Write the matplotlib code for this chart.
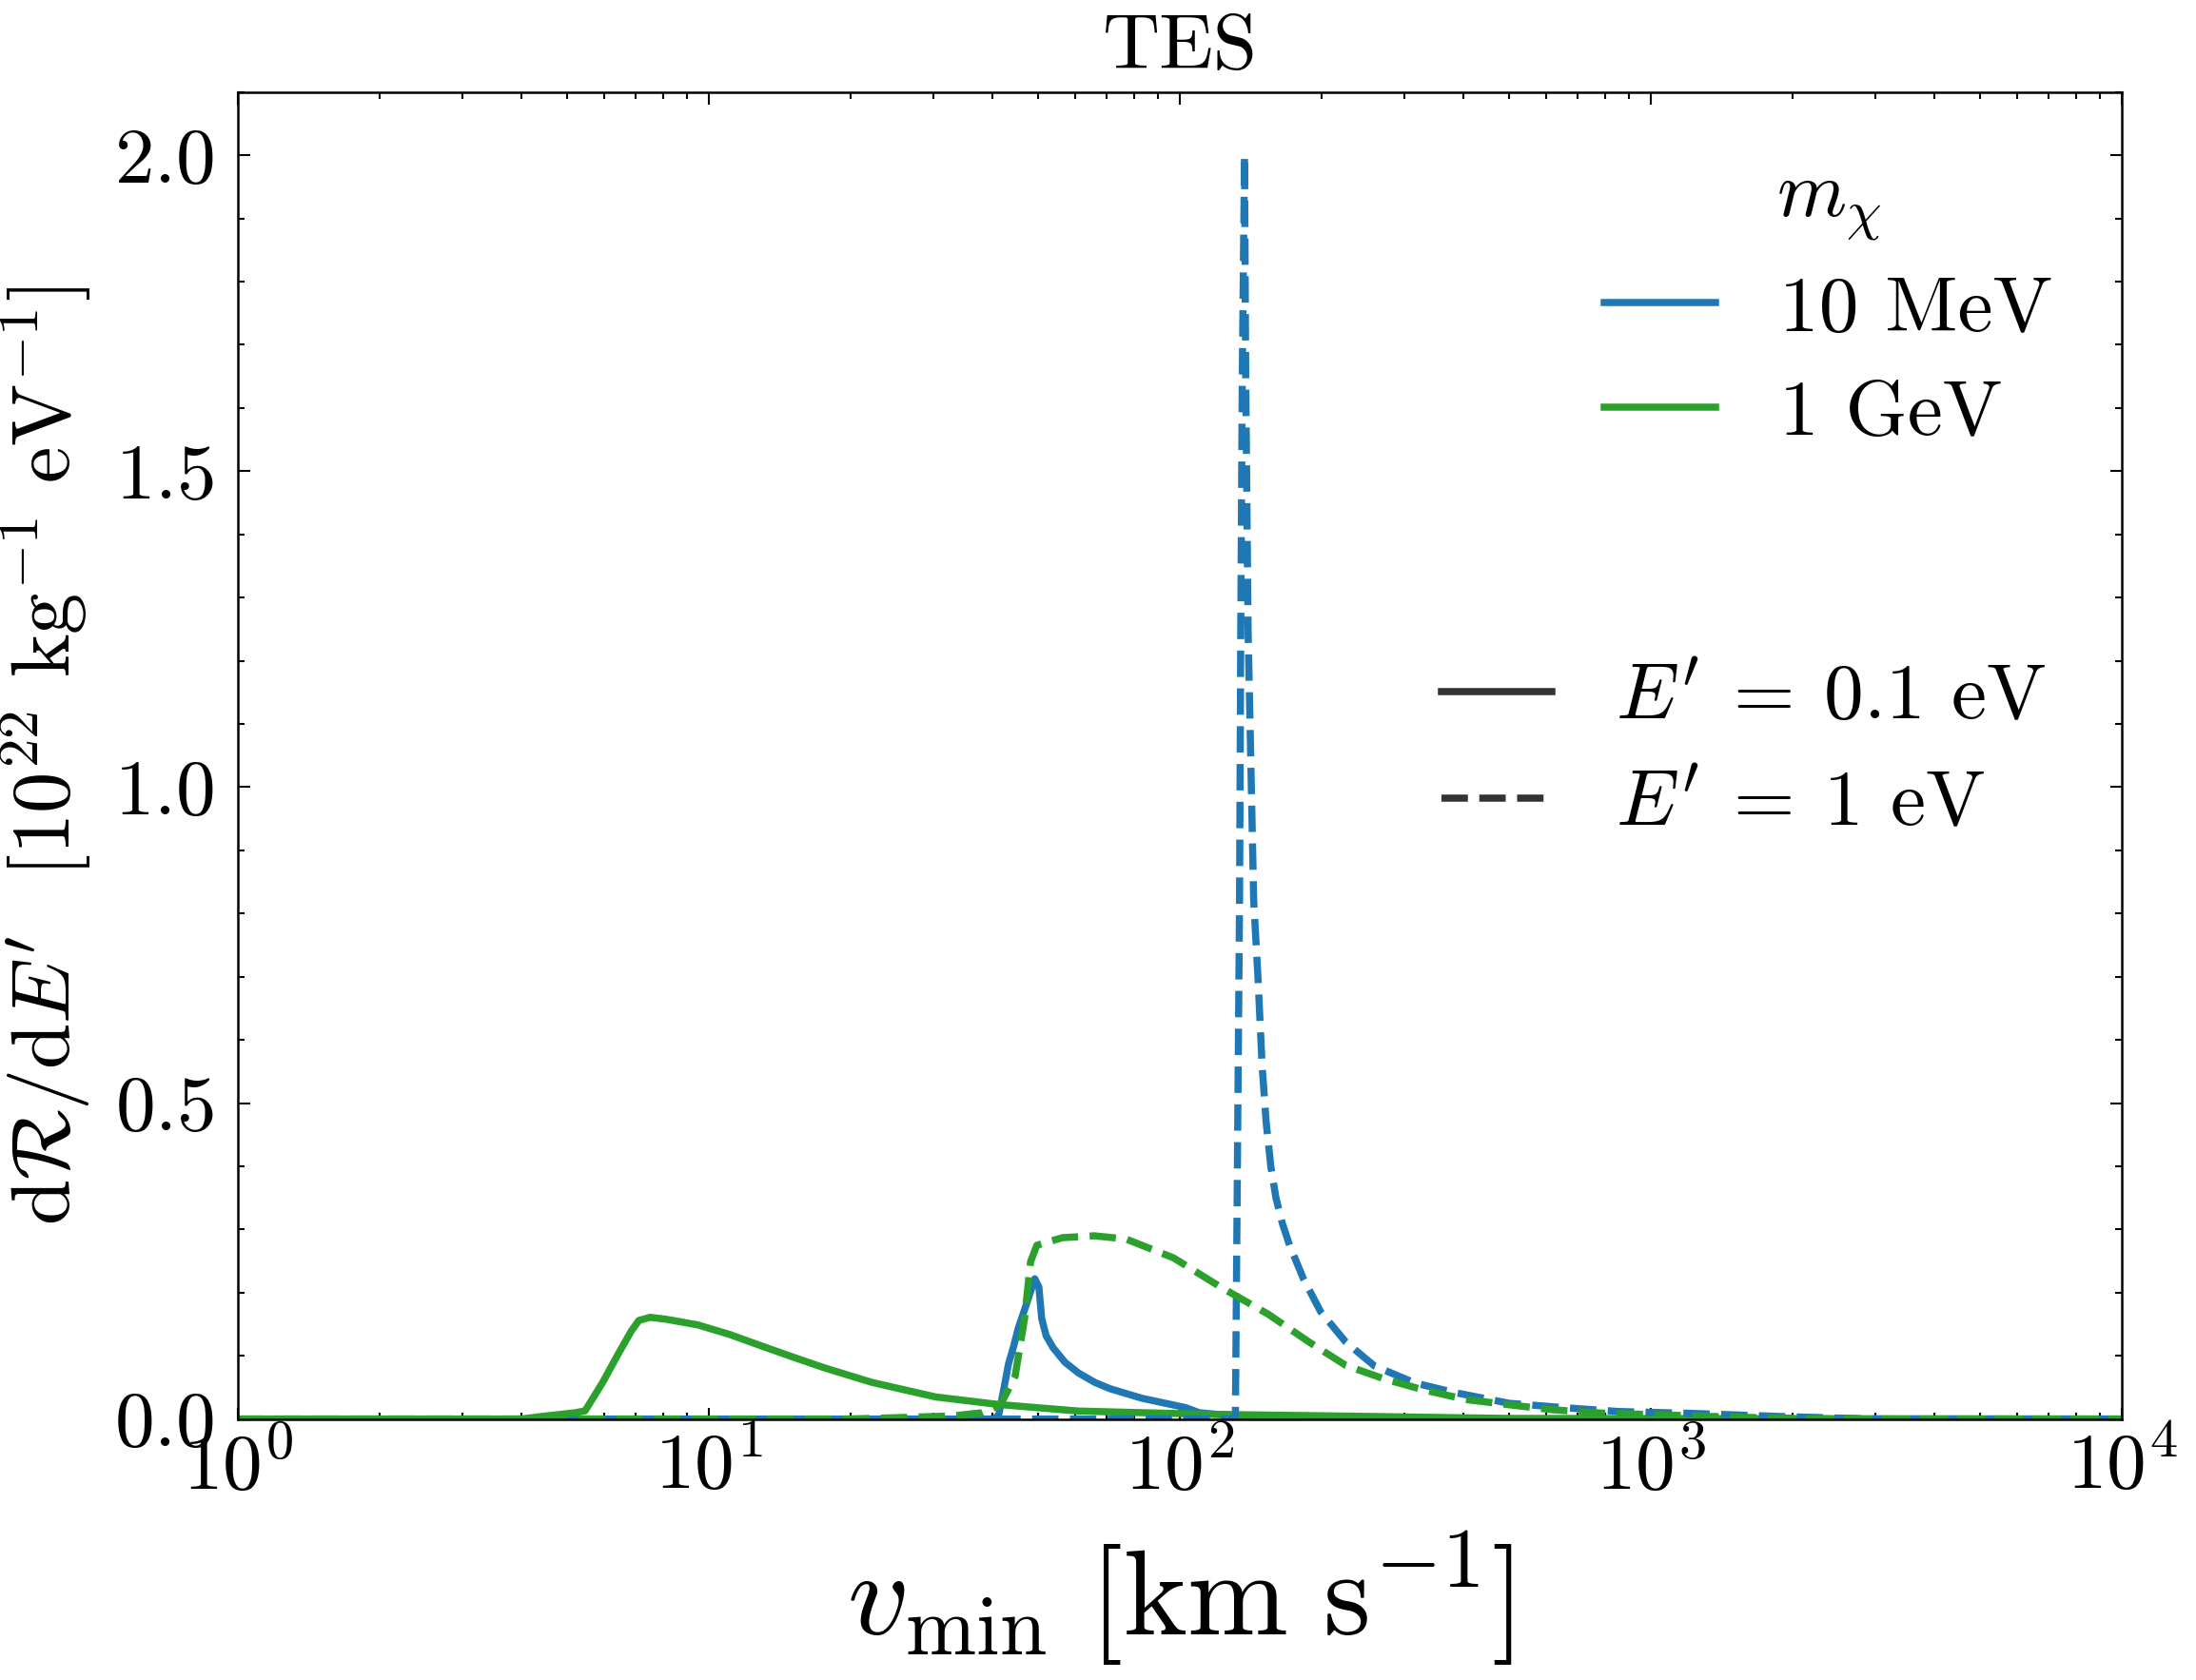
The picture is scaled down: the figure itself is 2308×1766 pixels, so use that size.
import matplotlib
matplotlib.use('Agg')
import matplotlib.pyplot as plt
from matplotlib.lines import Line2D
from matplotlib.ticker import MultipleLocator

# v_min [km/s] and dR/dE' [1e22 /kg/eV]
v_10mev_01 = [1, 40.5, 41.3, 42.3, 43.3, 44.3, 45.4, 47.1, 49.2, 50.2, 50.9, 52.0, 53.8,
              57.0, 60.9, 66.0, 71.1, 83.0, 103, 110, 122, 154, 250, 1e4]
r_10mev_01 = [0, 0, 0.008, 0.048, 0.088, 0.113, 0.144, 0.179, 0.222, 0.209, 0.159, 0.132,
              0.113, 0.090, 0.073, 0.058, 0.048, 0.033, 0.018, 0.010, 0.007, 0.004, 0, 0]

v_10mev_1 = [1, 131.2, 133.9, 134.7, 135.7, 137.2, 138.0, 139.6, 143.5, 146.5, 149.5,
             152.5, 156, 160, 165, 171, 183, 199, 225, 259, 316, 383, 500, 655, 853, 1222,
             1900, 3000, 1e4]
r_10mev_1 = [0, 0, 0.82, 1.25, 1.65, 2.0, 1.65, 1.25, 0.82, 0.70, 0.56,
             0.47, 0.40, 0.35, 0.31, 0.275, 0.222, 0.170, 0.122, 0.084, 0.057, 0.042, 0.025,
             0.018, 0.012, 0.009, 0.004, 0, 0]

v_1gev_01 = [1, 4.0, 4.4, 5.2, 5.46, 5.95, 6.42, 6.84, 7.1, 7.5, 8.11, 9.47, 11.06, 12.9,
             15.1, 17.6, 22.2, 30.3, 41.3, 60.8, 113, 210, 500, 1e4]
r_1gev_01 = [0, 0, 0.004, 0.01, 0.013, 0.058, 0.103, 0.139, 0.156, 0.161, 0.158, 0.149,
             0.134, 0.116, 0.098, 0.081, 0.058, 0.035, 0.023, 0.0127, 0.0076, 0.005, 0.001, 0]

v_1gev_1 = [1, 20, 33, 38, 41.0, 41.97, 44.7, 46.8, 48.2, 49.7, 56.3, 65.8, 76.8, 97,
            122, 154, 188, 225, 273, 326, 404, 500, 619, 782, 1019, 1500, 2500, 1e4]
r_1gev_1 = [0, 0, 0.005, 0.01, 0.02, 0.028, 0.068, 0.159, 0.249, 0.275, 0.287, 0.290,
            0.285, 0.255, 0.209, 0.166, 0.122, 0.085, 0.063, 0.047, 0.031, 0.0226,
            0.0147, 0.0095, 0.007, 0.003, 0, 0]

blue = '#1f77b4'
green = '#2ca02c'
lw = 1.8

plt.rcParams['font.family'] = 'serif'
plt.rcParams['font.serif'] = ['cmr10']
plt.rcParams['mathtext.fontset'] = 'cm'
plt.rcParams['axes.formatter.use_mathtext'] = True
plt.rcParams['axes.unicode_minus'] = False
plt.rcParams['axes.linewidth'] = 0.6
for ax_name in ['xtick', 'ytick']:
    plt.rcParams[ax_name + '.direction'] = 'in'
    plt.rcParams[ax_name + '.major.size'] = 3
    plt.rcParams[ax_name + '.minor.size'] = 1.6
    plt.rcParams[ax_name + '.major.width'] = 0.5
    plt.rcParams[ax_name + '.minor.width'] = 0.5
    plt.rcParams[ax_name + '.minor.visible'] = True
plt.rcParams['xtick.top'] = True
plt.rcParams['ytick.right'] = True

fig = plt.figure(figsize=(2308 / 300, 1766 / 300), dpi=300)
ax = fig.add_axes([0.10832, 0.15532, 0.85789, 0.78992])

ax.plot(v_10mev_01, r_10mev_01, color=blue, lw=lw)
ax.plot(v_1gev_01, r_1gev_01, color=green, lw=lw)
ax.plot(v_10mev_1, r_10mev_1, color=blue, lw=lw, ls='--')
ax.plot(v_1gev_1, r_1gev_1, color=green, lw=lw, ls='--')

ax.set_xscale('log')
ax.set_xlim(1, 1e4)
ax.set_ylim(0, 2.1)
ax.yaxis.set_major_locator(MultipleLocator(0.5))
ax.yaxis.set_minor_locator(MultipleLocator(0.1))
ax.tick_params(axis='both', which='major', labelsize=20)
ax.tick_params(axis='x', pad=3)
ax.tick_params(axis='y', pad=6)

ax.set_title('TES', fontsize=20)
ax.set_xlabel(r'$v_{\rm min}\ [{\rm km\ s^{-1}}]$', fontsize=30.5, labelpad=6)
ax.set_ylabel(r"$\mathrm{d}\mathcal{R}/\mathrm{d}E'$  [$10^{22}$ kg$^{-1}$ eV$^{-1}$]", fontsize=20.8)
ax.yaxis.set_label_coords(-0.077, 0.5)

h_mass = [Line2D([], [], color=blue, lw=lw), Line2D([], [], color=green, lw=lw)]
leg1 = ax.legend(h_mass, ['10 MeV', '1 GeV'], title=r'$m_\chi$', title_fontsize=20,
                 fontsize=20, frameon=False, loc='upper right',
                 bbox_to_anchor=(0.963, 0.948), borderaxespad=0, borderpad=0,
                 handlelength=1.4, handletextpad=0.8, labelspacing=0.42)
ax.add_artist(leg1)

h_e = [Line2D([], [], color='0.2', lw=lw), Line2D([], [], color='0.2', lw=lw, ls='--')]
ax.legend(h_e, [r"$E'\:=\:0.1$ eV", r"$E'\:=\:1$ eV"], fontsize=20, frameon=False,
          loc='upper right', bbox_to_anchor=(0.96, 0.569), borderaxespad=0, borderpad=0,
          handlelength=1.4, handletextpad=0.8, labelspacing=0.45)

fig.savefig('out.png', dpi=300)
